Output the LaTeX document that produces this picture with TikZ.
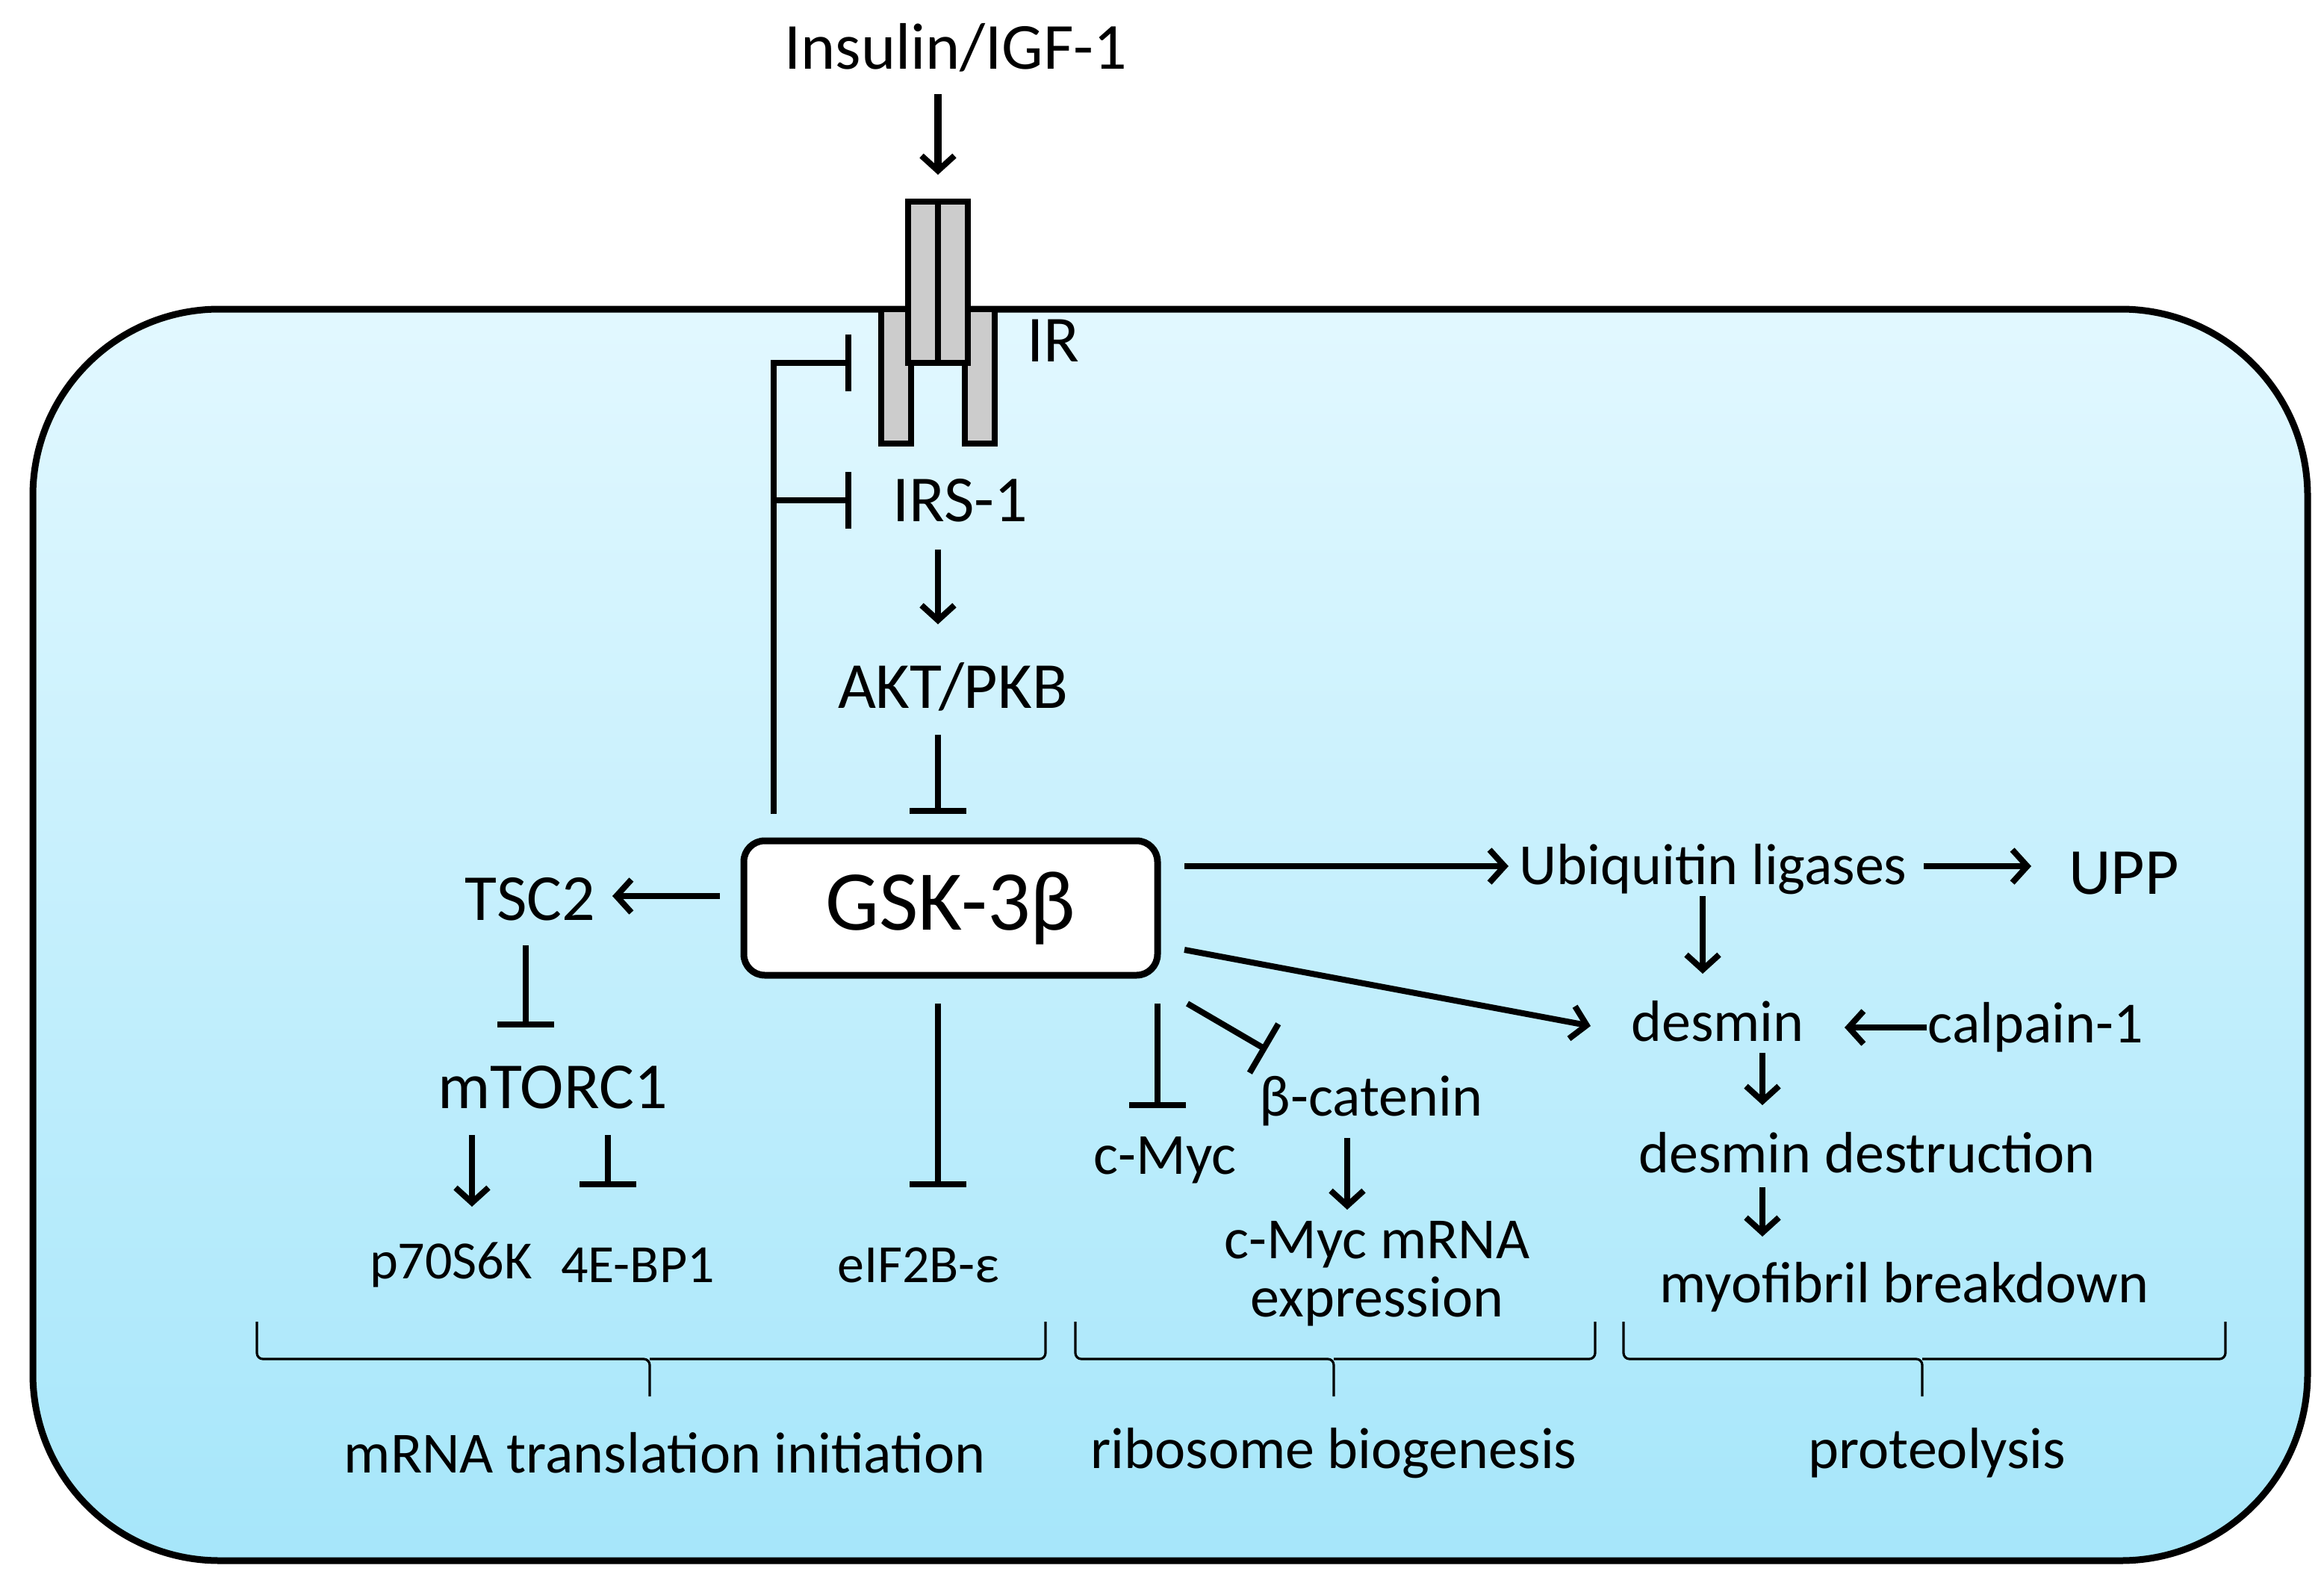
\documentclass[tikz,border=0pt]{standalone}
\usepackage{fontspec}
\setmainfont{Carlito}
\usetikzlibrary{arrows.meta,decorations.pathreplacing}
\definecolor{ctop}{HTML}{E2F8FF}
\definecolor{cbot}{HTML}{A6E6FA}
\begin{document}
\begin{tikzpicture}[x=1pt,y=-1pt,
 lw/.style={line width=4pt},
 act/.style={lw,-{Straight Barb[length=10pt,width=22pt,line width=4pt]}},
 inh/.style={lw,-{Bar[width=38pt,line width=4pt]}},
 lab/.style={font=\fontsize{44}{48}\selectfont,inner sep=0pt},
 md/.style={font=\fontsize{39}{43}\selectfont,inner sep=0pt},
 sm/.style={font=\fontsize{36}{40}\selectfont,inner sep=0pt},
 brace/.style={line width=1.6pt,rounded corners=4pt}]
\useasboundingbox (0,0) rectangle (1556,1062);
\draw[line width=4.5pt,rounded corners=125pt,top color=ctop,bottom color=cbot] (22,207) rectangle (1545,1045);
% receptor
\draw[line width=4pt,fill=gray!40] (590,207) rectangle (610,297);
\draw[line width=4pt,fill=gray!40] (646,207) rectangle (666,297);
\draw[line width=4pt,fill=gray!40] (608,135) rectangle (648,243);
\draw[line width=4pt] (628,135) -- (628,243);
\node[lab] (ins) at (640,32) {Insulin/IGF-1};
\coordinate (rt) at (628,117);
\draw[act,line width=5pt] (628,63) -- (rt);
\node[lab] (ir) at (705,228) {IR};
\node[lab] (irs) at (643,335) {IRS-1};
\node[lab] (akt) at (638,460) {AKT/PKB};
\node[draw,line width=4.5pt,rounded corners=14pt,fill=white,minimum width=277pt,minimum height=90pt,font=\fontsize{57}{60}\selectfont] (gsk) at (636.5,608) {GSK-3β};
% feedback
\coordinate (fb0) at (518,545);
\coordinate (fb1) at (518,243);
\coordinate (fb2) at (518,335);
\coordinate (bar1) at (570,243);
\coordinate (bar2) at (570,335);
\draw[lw] (fb0) -- (fb1) -- (bar1);
\draw[inh] (fb1) -- (bar1);
\draw[inh] (fb2) -- (bar2);
\draw[act] (628,368) -- (628,418);
\draw[inh] (628,492) -- (628,545);
% left
\node[lab] (tsc) at (355,602) {TSC2};
\draw[act] (482,600) -- (410,600);
\node[lab] (mtor) at (370,728) {mTORC1};
\draw[inh] (352,633) -- (352,688);
\node[sm] (p70) at (302,847) {p70S6K};
\node[sm] (ebp) at (427,847) {4E-BP1};
\draw[act] (316,760) -- (316,808);
\draw[inh] (407,760) -- (407,795);
\node[sm] (eif) at (615,847) {eIF2B-ε};
\draw[inh] (628,672) -- (628,795);
% middle
\node[md] (myc) at (780,777) {c-Myc};
\draw[inh] (775,672) -- (775,742);
\node[md] (bcat) at (918,737) {β-catenin};
\draw[inh] (795,672) -- (848,703);
\draw[act] (902,762) -- (902,810);
\node[md,align=center] (mrna) at (922,853) {c-Myc mRNA\\[-4pt]expression};
% right
\node[md] (ub) at (1147,582) {Ubiquitin ligases};
\node[lab] (upp) at (1422,585) {UPP};
\draw[act] (793,580) -- (1010,580);
\draw[act] (1288,580) -- (1360,580);
\node[md] (des) at (1150,684) {desmin};
\draw[act] (1140,600) -- (1140,652);
\draw[act] (793,636) -- (1065,687);
\node[md] (cal) at (1363,688) {calpain-1};
\draw[act] (1290,688) -- (1235,688);
\node[md] (dd) at (1250,772) {desmin destruction};
\draw[act] (1180,705) -- (1180,740);
\node[md] (mb) at (1275,862) {myofibril breakdown};
\draw[act] (1180,795) -- (1180,828);
% braces
\draw[brace] (172,885) -- (172,910) -- (435,910) -- (435,935);
\draw[brace] (435,910) -- (700,910) -- (700,885);
\draw[brace] (720,885) -- (720,910) -- (893,910) -- (893,935);
\draw[brace] (893,910) -- (1068,910) -- (1068,885);
\draw[brace] (1087,885) -- (1087,910) -- (1287,910) -- (1287,935);
\draw[brace] (1287,910) -- (1490,910) -- (1490,885);
\node[md] (l1) at (445,973) {mRNA translation initiation};
\node[md] (l2) at (893,973) {ribosome biogenesis};
\node[md] (l3) at (1297,973) {proteolysis};
\end{tikzpicture}
\end{document}
